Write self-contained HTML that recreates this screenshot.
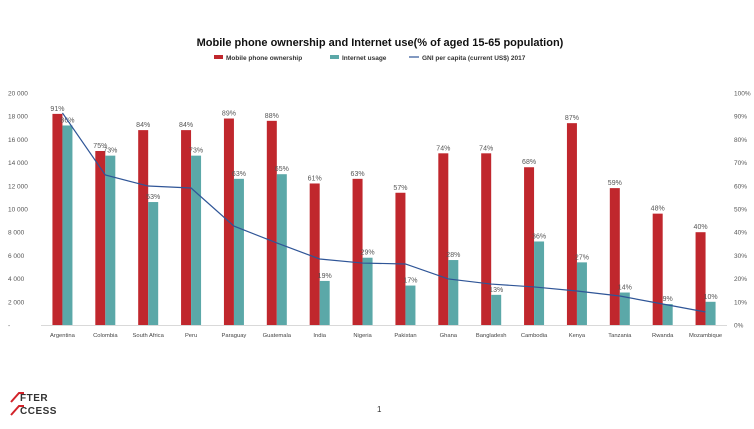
<!DOCTYPE html>
<html><head><meta charset="utf-8"><style>
body{margin:0;background:#fff;width:754px;height:424px;overflow:hidden;font-family:"Liberation Sans",sans-serif}
svg text{font-family:"Liberation Sans",sans-serif}
</style></head><body>
<svg id="chart" width="754" height="424" xmlns="http://www.w3.org/2000/svg">
<text x="380" y="46" text-anchor="middle" font-size="11" font-weight="bold" fill="#111">Mobile phone ownership and Internet use(% of aged 15-65 population)</text>
<g font-size="6.5" font-weight="bold" fill="#333">
<g><rect x="214" y="55" width="9" height="4" fill="#c0272d"/><text x="226" y="60">Mobile phone ownership</text></g>
<g><rect x="330" y="55" width="9" height="4" fill="#5ba8a8"/><text x="342" y="60">Internet usage</text></g>
<g><line x1="409" y1="57" x2="419" y2="57" stroke="#2f5597" stroke-width="1.2"/><text x="422" y="60">GNI per capita (current US$) 2017</text></g>
</g>
<g id="plot"></g>
<text x="377" y="412" font-size="8" fill="#333">1</text>
<g>
<path d="M11 402 L19 393 L24 393" stroke="#d2232a" stroke-width="2" fill="none"/>
<path d="M11 415 L19 406 L24 406" stroke="#d2232a" stroke-width="2" fill="none"/>
<text x="20" y="401" font-size="10" font-weight="bold" fill="#333" letter-spacing="0.5">FTER</text>
<text x="20" y="414" font-size="10" font-weight="bold" fill="#333" letter-spacing="0.5">CCESS</text>
</g>
</svg>
<script>
const categories=["Argentina","Colombia","South Africa","Peru","Paraguay","Guatemala","India","Nigeria","Pakistan","Ghana","Bangladesh","Cambodia","Kenya","Tanzania","Rwanda","Mozambique"];
const mobile=[91,75,84,84,89,88,61,63,57,74,74,68,87,59,48,40];
const internet=[86,73,53,73,63,65,19,29,17,28,13,36,27,14,9,10];
const gni=[18280,12930,11980,11810,8530,7070,5690,5340,5260,3970,3530,3280,2930,2500,1810,1120];
const leftTicks=[0,2000,4000,6000,8000,10000,12000,14000,16000,18000,20000];
const rightTicks=[0,10,20,30,40,50,60,70,80,90,100];
const NS="http://www.w3.org/2000/svg";
const g=document.getElementById('plot');
const x0=41,x1=727,yB=325,yT=93;
const band=(x1-x0)/categories.length;
const xc=i=>x0+band*(i+0.5);
const yL=v=>yB-(v/20000)*(yB-yT);
const yR=v=>yB-(v/100)*(yB-yT);
function mk(t,a){const e=document.createElementNS(NS,t);for(const k in a)e.setAttribute(k,a[k]);g.appendChild(e);return e;}
const fmt=v=>v===0?"-":(Math.floor(v/1000)+" "+String(v%1000).padStart(3,"0"));
leftTicks.forEach(v=>{const t=mk('text',{x:8,y:yL(v)+2.5,'font-size':6.5,fill:'#555'});t.textContent=fmt(v);

});
rightTicks.forEach(v=>{const t=mk('text',{x:734,y:yR(v)+2.5,'font-size':6.5,fill:'#555'});t.textContent=v+"%";

});
const ax=mk('line',{x1:x0,y1:yB+0.5,x2:x1,y2:yB+0.5,stroke:'#d9d9d9','stroke-width':1});


categories.forEach((c,i)=>{
 const cx=xc(i);
 const r=mk('rect',{x:cx-10,y:yR(mobile[i]),width:10,height:yB-yR(mobile[i]),fill:'#c0272d'});
 
 
 const b=mk('rect',{x:cx,y:yR(internet[i]),width:10,height:yB-yR(internet[i]),fill:'#5ba8a8'});
 
 
 const l1=mk('text',{x:cx-5,y:yR(mobile[i])-3,'font-size':7,fill:'#555','text-anchor':'middle'});l1.textContent=mobile[i]+"%";
 
 
 const l2=mk('text',{x:cx+5,y:yR(internet[i])-3,'font-size':7,fill:'#555','text-anchor':'middle'});l2.textContent=internet[i]+"%";
 
 
 const cl=mk('text',{x:cx,y:yB+12,'font-size':5.8,fill:'#444','text-anchor':'middle'});cl.textContent=c;
 
 
});
const ln=mk('polyline',{points:gni.map((v,i)=>xc(i)+","+yL(v)).join(" "),fill:'none',stroke:'#2f5597','stroke-width':1.2});


</script>
</body></html>
